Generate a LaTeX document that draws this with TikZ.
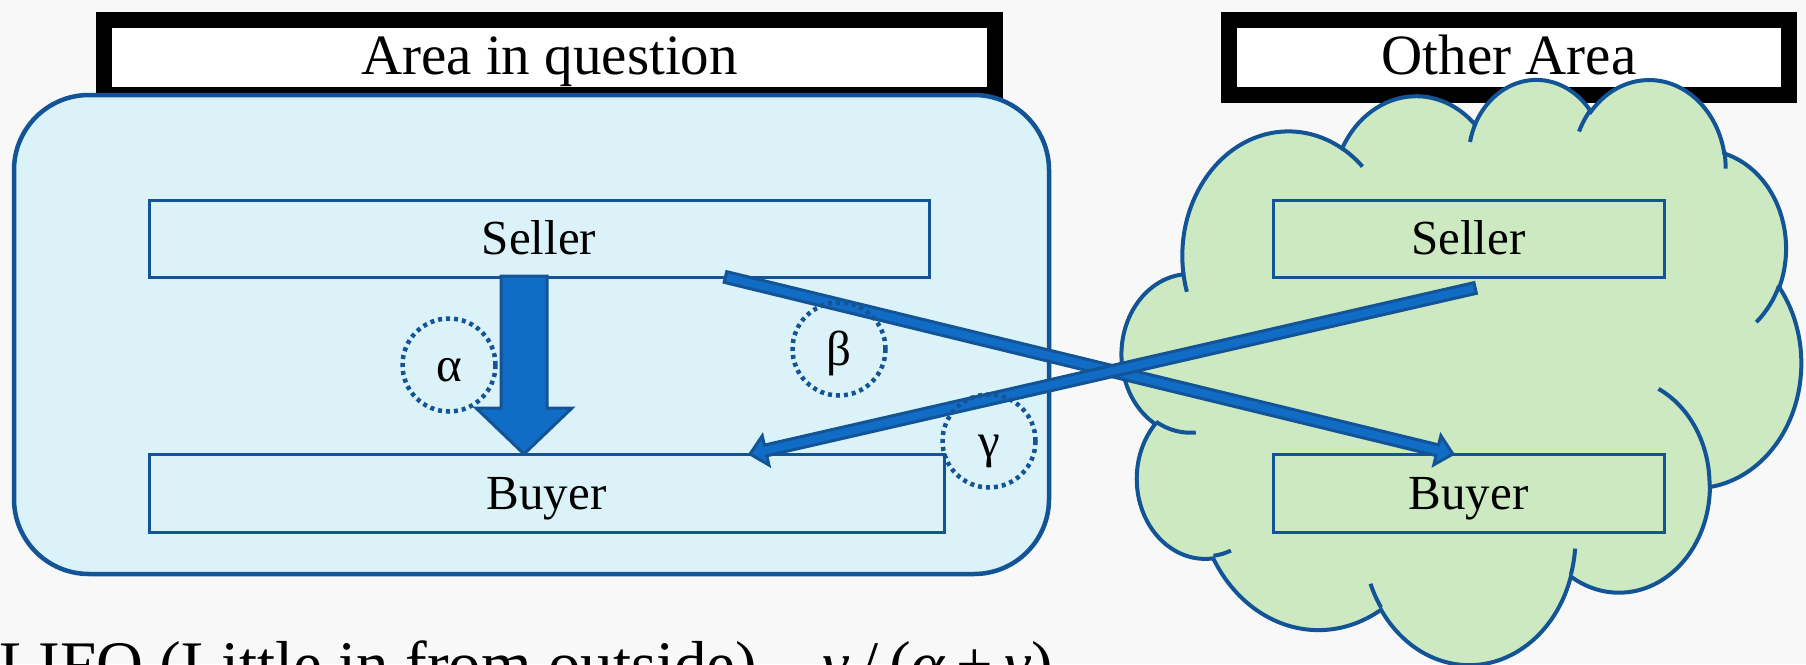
\documentclass[tikz,border=0pt]{standalone}
\usepackage{fontspec}
\setmainfont{Liberation Serif}
\usetikzlibrary{calc}

\definecolor{edgeblue}{RGB}{18,84,150}
\definecolor{flowblue}{RGB}{17,108,198}
\definecolor{areafill}{RGB}{219,243,248}
\definecolor{cloudfill}{RGB}{204,233,194}
\definecolor{paper}{RGB}{248,248,248}

\tikzset{
  % parametric angle of an ellipse point given by its visual angle
  declare function={pa(\a,\b,\t)=atan2(\a*sin(\t),\b*cos(\t));},
  carc/.style n args={4}{start angle={pa(#1,#2,#3)},
    delta angle={mod(pa(#1,#2,#3+#4)-pa(#1,#2,#3)+720,360)},
    x radius=#1, y radius=#2},
  framebox/.style={draw=black, line width=16pt, fill=white, inner sep=0pt,
    outer sep=0pt, font=\fontsize{57}{68}\selectfont,
    text height=38pt, text depth=5pt},
  partybox/.style={draw=edgeblue, line width=3pt, inner sep=0pt, outer sep=0pt,
    font=\fontsize{49}{58}\selectfont, text height=32pt, text depth=0pt},
  share/.style={circle, draw=edgeblue, line width=4.5pt,
    dash pattern=on 4pt off 4pt, minimum size=93pt, inner sep=0pt,
    outer sep=0pt, font=\fontsize{49}{58}\selectfont,
    text height=32pt, text depth=0pt},
  band/.style={draw=edgeblue, fill=flowblue, line width=3pt, line join=miter},
  cloudline/.style={draw=edgeblue, line width=4pt},
}

% slim block arrow from #1 to #2
\newcommand{\bandarrow}[2]{%
  \coordinate (ba-base) at ($(#2)!16pt!(#1)$);
  \filldraw[band] ($(#1)!5.5pt!90:(#2)$) -- ($(ba-base)!5.5pt!-90:(#1)$)
    -- ($(ba-base)!15pt!-90:(#1)$) -- (#2) -- ($(ba-base)!15pt!90:(#1)$)
    -- ($(ba-base)!5.5pt!90:(#1)$) -- ($(#1)!5.5pt!-90:(#2)$) -- cycle;}

\begin{document}
\begin{tikzpicture}[x=1pt, y=-1pt]
\useasboundingbox (0,0) rectangle (1806,664);
\fill[paper] (0,0) rectangle (1806,664);

% headings
\node[framebox, minimum width=891pt, minimum height=75pt] (headA) at (549.5,57.5) {Area in question};
\node[framebox, minimum width=560pt, minimum height=75pt] (headB) at (1509,57.5) {Other Area};

% area in question
\node[draw=edgeblue, fill=areafill, line width=4.5pt, rounded corners=75pt,
  minimum width=1035pt, minimum height=479pt, inner sep=0pt, outer sep=0pt]
  (areaA) at (531.5,334.5) {};

% other area (cloud)
\begin{scope}[shift={(1122pt,-78pt)}, x=0.15718pt, y=-0.13542pt]
\filldraw[cloudline, fill=cloudfill] (390,1437)
  arc[carc={675.3}{919.0}{-190.48748}{123.78053}]
  arc[carc={533.3}{726.7}{-144.10238}{89.94523}]
  arc[carc={436.5}{594.5}{-145.80792}{99.72302}]
  arc[carc={485.7}{659.5}{-130.98607}{117.24173}]
  arc[carc={533.3}{727.3}{-78.70888}{109.02692}]
  arc[carc={677.5}{922.0}{-46.26725}{130.26900}]
  arc[carc={578.5}{786.7}{0.62502}{114.03333}]
  arc[carc={675.2}{921.5}{22.45160}{115.17255}]
  arc[carc={772.0}{1054.3}{66.24263}{75.71102}]
  arc[carc={436.0}{591.8}{-274.94208}{146.73557}]
  arc[carc={434.5}{594.5}{-246.82850}{152.51885}]
  -- cycle;
\draw[cloudline]
  (469.3,2617.7) arc[carc={434.5}{594.5}{86.742}{26.4295}]
  (692.8,3489.9) arc[carc={436.0}{591.8}{73.61047}{11.44747}]
  (1647.8,3909.0) arc[carc={675.2}{921.5}{137.62415}{14.0811}]
  (2882.7,3475.1) arc[carc={675.2}{921.5}{6.45327}{15.99835}]
  (3412.9,2295.4) arc[carc={578.5}{786.7}{-70.29235}{70.91737}]
  (4179.8,1535.4) arc[carc={533.3}{727.3}{30.31803}{27.7515}]
  (3832.4,542.6) arc[carc={485.7}{659.5}{-13.74433}{14.8589}]
  (2907.8,395.2) arc[carc={485.7}{659.5}{-149.18145}{18.19537}]
  (2214.1,472.0) arc[carc={436.5}{594.5}{-163.49427}{17.68635}]
  (1400.0,519.2) arc[carc={675.3}{919.0}{-66.70695}{12.31935}]
  (412.7,1578.9) arc[carc={675.3}{919.0}{157.65435}{11.85817}];
\end{scope}

% sellers and buyers
\node[partybox, minimum width=780pt, minimum height=77pt] (sellerA) at (539,238.5) {Seller};
\node[partybox, minimum width=795pt, minimum height=78pt] (buyerA) at (546.5,493) {Buyer};
\node[partybox, minimum width=391pt, minimum height=77pt] (sellerB) at (1468.5,238.5) {Seller};
\node[partybox, minimum width=391pt, minimum height=78pt] (buyerB) at (1468.5,493) {Buyer};

% local trade: broad arrow
\coordinate (alphaTop) at ($(sellerA.south west)+(375,-1)$);
\coordinate (alphaTip) at (alphaTop |- buyerA.north);
\filldraw[band] ($(alphaTop)+(-23,0)$) -- ($(alphaTop)+(23,0)$)
  -- ($(alphaTip)+(23,-46)$) -- ($(alphaTip)+(48,-46)$) -- (alphaTip)
  -- ($(alphaTip)+(-48,-46)$) -- ($(alphaTip)+(-23,-46)$) -- cycle;

% cross-area trade
\coordinate (betaTail) at ($(sellerA.south west)!0.739!(sellerA.south east)$);
\coordinate (betaTip) at ($(buyerB.north west)!0.46!(buyerB.north east)$);
\coordinate (gammaTail) at ($($(sellerB.south west)!0.517!(sellerB.south east)$)+(0,11)$);
\coordinate (gammaTip) at ($(buyerA.north west)!0.756!(buyerA.north east)$);
\bandarrow{betaTail}{betaTip}
\bandarrow{gammaTail}{gammaTip}

% shares
\node[share] (alpha) at (449,365) {α};
\node[share] (beta) at (839,349) {β};
\node[share] (gamma) at (989,441) {γ};

% caption line, running off the lower edge
\begin{scope}
\clip (0,0) rectangle (1806,664);
\node[anchor=base west, inner sep=0pt, font=\fontsize{65}{78}\selectfont]
  (lifo) at (-1,686) {LIFO (Little in from outside) – \textit{γ}\,/\,(\textit{α}\,+\,\textit{γ})};
\end{scope}
\end{tikzpicture}
\end{document}
